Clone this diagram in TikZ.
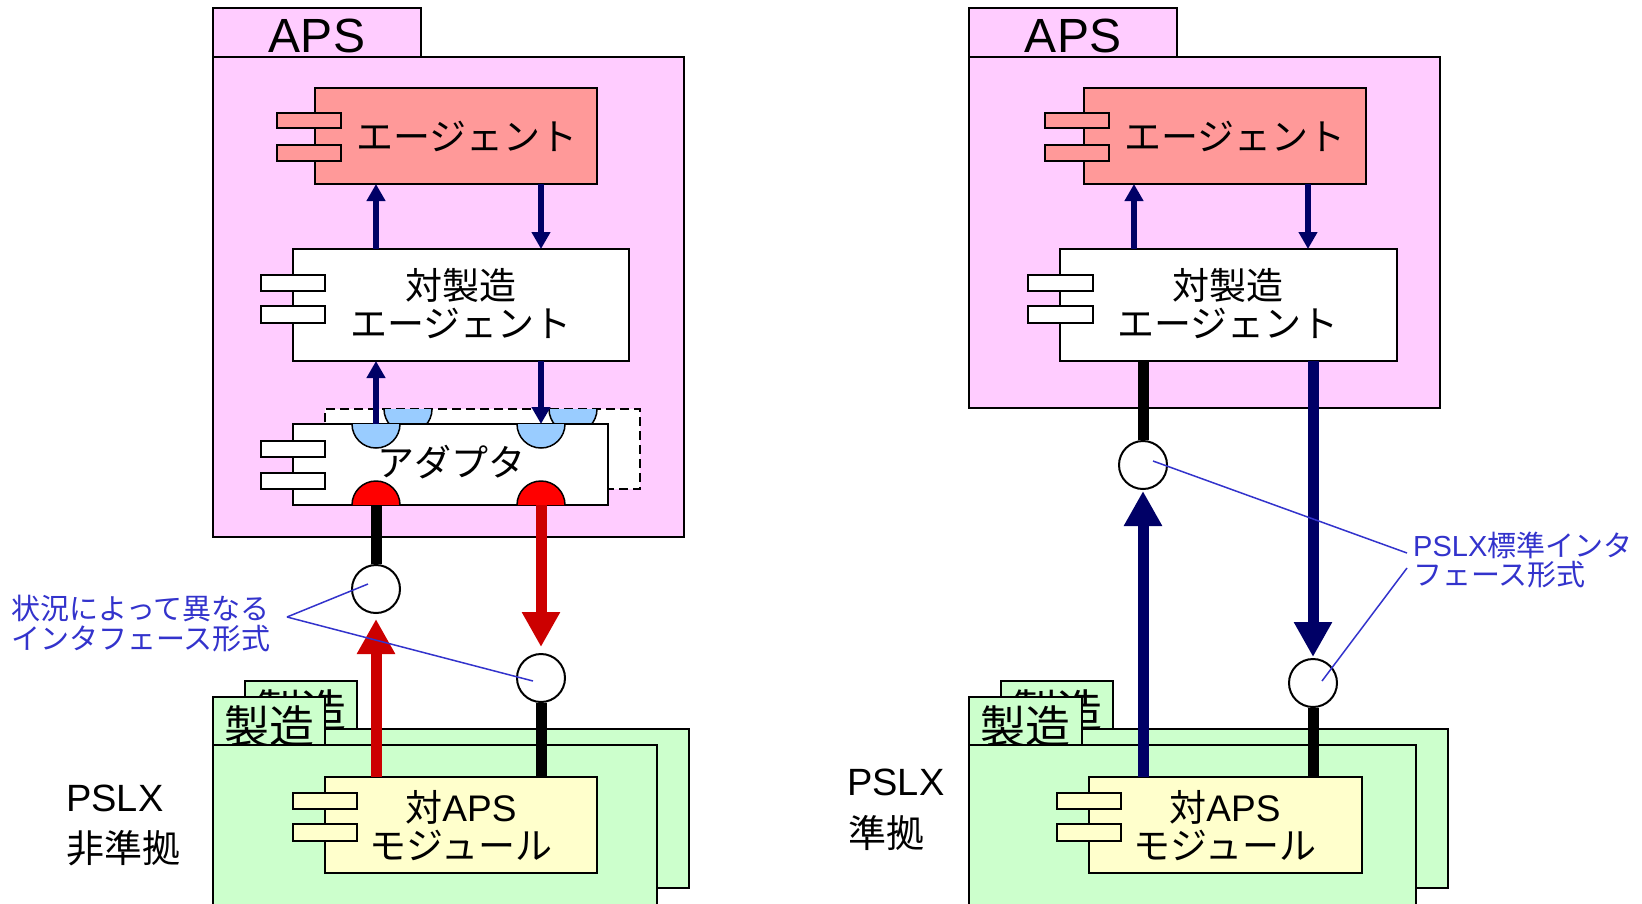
\documentclass[tikz,border=0pt]{standalone}
\usepackage{fontspec}
\setmainfont{Liberation Sans}
\newfontfamily\cjk{Noto Sans CJK JP}
\usetikzlibrary{arrows.meta}
\definecolor{pkpink}{HTML}{FFCCFF}
\definecolor{agentred}{HTML}{FF9999}
\definecolor{modyellow}{HTML}{FFFFCC}
\definecolor{mfggreen}{HTML}{CCFFCC}
\definecolor{ltblue}{HTML}{99CCFF}
\definecolor{semired}{HTML}{FF0000}
\definecolor{arrred}{HTML}{CC0000}
\definecolor{navy}{HTML}{000066}
\definecolor{lblblue}{HTML}{3333CC}
\newcommand\fBig{\fontsize{37}{38}\selectfont}
\newcommand\fAps{\fontsize{48}{50}\selectfont}
\newcommand\fTab{\fontsize{45}{46}\selectfont}
\newcommand\fPs{\fontsize{38}{40}\selectfont}
\newcommand\fLbl{\fontsize{29}{30}\selectfont}
\newcommand\mybox[7][]{\node[box,fill=#7,minimum width={#5-#3},minimum height={#6-#4},#1] (#2) at ({(#3+#5)/2},{(#4+#6)/2}) {};}
\begin{document}
\begin{tikzpicture}[x=1pt,y=-1pt,
  box/.style={draw=black,line width=2pt,inner sep=0pt,outer sep=0pt},
  txt/.style={inner sep=0pt,align=center,text=black},
  ifc/.style={circle,draw=black,line width=2pt,fill=white,minimum size=48pt,inner sep=0pt},
  thinarr/.style={draw=navy,line width=6pt,-{Triangle[length=17pt,width=18pt]}},
  redarr/.style={draw=arrred,line width=11pt,-{Triangle[length=35pt,width=36pt]}},
  navyarr/.style={draw=navy,line width=11pt,-{Triangle[length=35pt,width=36pt]}},
  thickline/.style={draw=black,line width=11pt},
  leader/.style={draw=lblblue,line width=1.5pt},
  lbl/.style={inner sep=0pt,anchor=west,text=lblblue,font=\fLbl},
  semib/.style={fill=ltblue,draw=black,line width=1.5pt},
  semir/.style={fill=semired,draw=black,line width=1.5pt}]
\clip (0,0) rectangle (1642,903);
\fill[white] (0,0) rectangle (1642,903);

% ================= LEFT =================
\mybox{apsTabL}{213}{8}{421}{57}{pkpink}
\mybox{apsL}{213}{57}{684}{537}{pkpink}
\node[txt,font=\fAps] (apsTxtL) at (317,36) {APS};

\mybox{agL}{315}{88}{597}{184}{agentred}
\mybox{agLca}{277}{113}{341}{128}{agentred}
\mybox{agLcb}{277}{145}{341}{161}{agentred}
\node[txt,font=\fBig\cjk] (agTxtL) at (467,136) {エージェント};

\mybox{maL}{293}{249}{629}{361}{white}
\mybox{maLca}{261}{275}{325}{291}{white}
\mybox{maLcb}{261}{306}{325}{323}{white}
\node[txt,font=\fBig\cjk] (maTxtL) at (461,304) {対製造\\エージェント};

\mybox[dash pattern=on 9pt off 5pt]{adDashL}{325}{409}{640}{489}{white}
\filldraw[semib] (384,409) arc[start angle=180,end angle=360,radius=24pt];
\filldraw[semib] (549,409) arc[start angle=180,end angle=360,radius=24pt];
\mybox{adL}{293}{424}{608}{505}{white}
\mybox{adLca}{261}{441}{325}{457}{white}
\mybox{adLcb}{261}{473}{325}{489}{white}
\filldraw[semib] (352,424) arc[start angle=180,end angle=360,radius=24pt];
\filldraw[semib] (517,424) arc[start angle=180,end angle=360,radius=24pt];
\filldraw[semir] (352,505) arc[start angle=180,end angle=0,radius=24pt];
\filldraw[semir] (517,505) arc[start angle=180,end angle=0,radius=24pt];
\node[txt,font=\fBig\cjk] (adTxtL) at (451,462) {アダプタ};

\mybox{pbTabL}{245}{681}{357}{729}{mfggreen}
\node[txt,font=\fTab\cjk] (pbTxtL) at (301,710) {製造};
\mybox{pbL}{245}{729}{689}{888}{mfggreen}
\mybox{pfTabL}{213}{697}{325}{745}{mfggreen}
\node[txt,font=\fTab\cjk] (pfTxtL) at (269,726) {製造};
\mybox{pfL}{213}{745}{657}{940}{mfggreen}

\mybox{modL}{325}{777}{597}{873}{modyellow}
\mybox{modLca}{293}{793}{357}{809}{modyellow}
\mybox{modLcb}{293}{824}{357}{841}{modyellow}
\node[txt,font=\fBig] (modTxtL) at (461,826) {{\cjk 対}APS\\{\cjk モジュール}};

\node[inner sep=0pt,anchor=base west,font=\fPs] (pslxL) at (66,811) {PSLX};
\node[inner sep=0pt,anchor=base west,font=\fPs\cjk] (hjkL) at (66,862) {非準拠};

\coordinate (xLa) at (376,0);
\coordinate (xLb) at (541,0);
\draw[thinarr] (maL.north -| xLa) -- (agL.south -| xLa);
\draw[thinarr] (agL.south -| xLb) -- (maL.north -| xLb);
\draw[thinarr] (adL.north -| xLa) -- (maL.south -| xLa);
\draw[thinarr] (maL.south -| xLb) -- (adL.north -| xLb);

\node[ifc] (cLa) at (376,589) {};
\node[ifc] (cLb) at (541,678) {};
\draw[thickline] (adL.south -| cLa) -- (cLa.north);
\draw[redarr,shorten >=6pt] (adL.south -| cLb) -- (cLb.north);
\draw[redarr,shorten >=5pt] (modL.north -| cLa) -- (cLa.south);
\draw[thickline] (cLb.south) -- (modL.north -| cLb);

\node[lbl] (lblLa) at (11,608.5) {\cjk 状況によって異なる};
\node[lbl] (lblLb) at (11,638.5) {\cjk インタフェース形式};
\coordinate (lpL) at (287,617);
\draw[leader] (lpL) -- ([shift={(-8,-5)}]cLa.center);
\draw[leader] (lpL) -- ([shift={(-8,3)}]cLb.center);

% ================= RIGHT =================
\mybox{apsTabR}{969}{8}{1177}{57}{pkpink}
\mybox{apsR}{969}{57}{1440}{408}{pkpink}
\node[txt,font=\fAps] (apsTxtR) at (1073,36) {APS};

\mybox{agR}{1084}{88}{1366}{184}{agentred}
\mybox{agRca}{1045}{113}{1109}{128}{agentred}
\mybox{agRcb}{1045}{145}{1109}{161}{agentred}
\node[txt,font=\fBig\cjk] (agTxtR) at (1235,136) {エージェント};

\mybox{maR}{1060}{249}{1397}{361}{white}
\mybox{maRca}{1028}{275}{1093}{291}{white}
\mybox{maRcb}{1028}{306}{1093}{323}{white}
\node[txt,font=\fBig\cjk] (maTxtR) at (1228,304) {対製造\\エージェント};

\mybox{pbTabR}{1001}{681}{1113}{729}{mfggreen}
\node[txt,font=\fTab\cjk] (pbTxtR) at (1057,710) {製造};
\mybox{pbR}{1001}{729}{1448}{888}{mfggreen}
\mybox{pfTabR}{969}{697}{1082}{745}{mfggreen}
\node[txt,font=\fTab\cjk] (pfTxtR) at (1025,726) {製造};
\mybox{pfR}{969}{745}{1416}{940}{mfggreen}

\mybox{modR}{1089}{777}{1362}{873}{modyellow}
\mybox{modRca}{1057}{793}{1121}{809}{modyellow}
\mybox{modRcb}{1057}{824}{1121}{841}{modyellow}
\node[txt,font=\fBig] (modTxtR) at (1225,826) {{\cjk 対}APS\\{\cjk モジュール}};

\node[inner sep=0pt,anchor=base west,font=\fPs] (pslxR) at (847,795) {PSLX};
\node[inner sep=0pt,anchor=base west,font=\fPs\cjk] (jkR) at (848,847) {準拠};

\coordinate (xRa) at (1134,0);
\coordinate (xRb) at (1308,0);
\draw[thinarr] (maR.north -| xRa) -- (agR.south -| xRa);
\draw[thinarr] (agR.south -| xRb) -- (maR.north -| xRb);

\node[ifc] (cRa) at (1143,465) {};
\node[ifc] (cRb) at (1313,683) {};
\draw[thickline] (maR.south -| cRa) -- (cRa.north);
\draw[navyarr,shorten >=1pt] (maR.south -| cRb) -- (cRb.north);
\draw[navyarr,shorten >=1pt] (modR.north -| cRa) -- (cRa.south);
\draw[thickline] (cRb.south) -- (modR.north -| cRb);

\node[lbl] (lblRa) at (1413,545.5) {PSLX{\cjk 標準インタ}};
\node[lbl] (lblRb) at (1413,575) {\cjk フェース形式};
\coordinate (lpRa) at (1407,553);
\coordinate (lpRb) at (1407,568);
\draw[leader] (lpRa) -- ([shift={(10,-4)}]cRa.center);
\draw[leader] (lpRb) -- ([shift={(9,-2)}]cRb.center);
\end{tikzpicture}
\end{document}
